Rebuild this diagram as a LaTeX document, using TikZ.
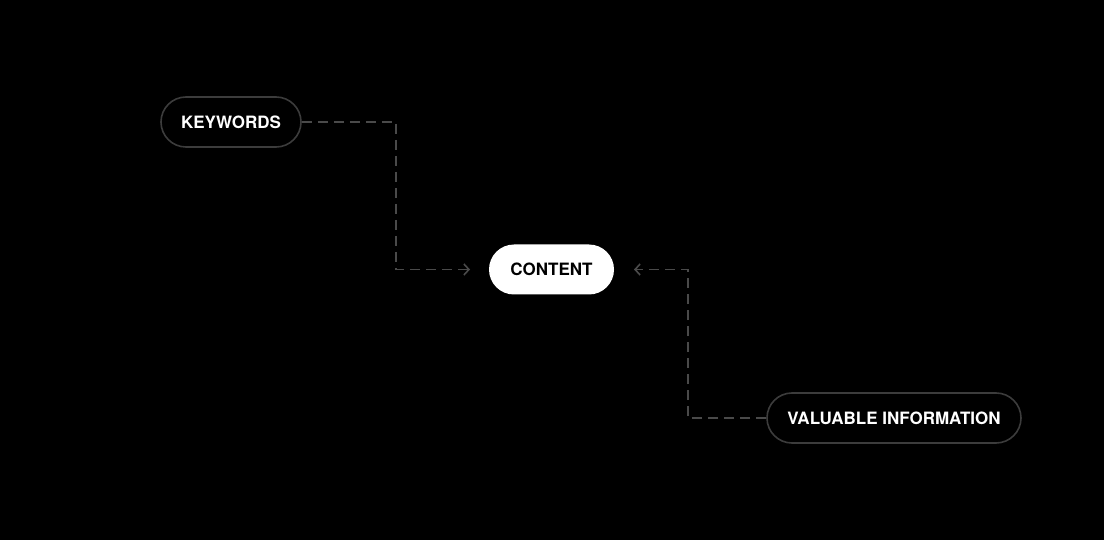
\documentclass[tikz,border=0pt]{standalone}
\usepackage{fontspec}
\setmainfont{TeX Gyre Heros}
\usetikzlibrary{arrows.meta}
\definecolor{pillborder}{HTML}{3C3C3C}
\definecolor{linkgray}{HTML}{4A4A4A}
\tikzset{
  pill/.style={rounded corners=25pt, minimum height=50pt, inner xsep=0pt,
    font=\fontsize{17}{20}\selectfont\bfseries, line width=1.6pt},
  darkpill/.style={pill, draw=pillborder, fill=black, text=white},
  lightpill/.style={pill, fill=white, text=black},
  link/.style={draw=linkgray, line width=1.6pt, dash pattern=on 10pt off 6pt,
    -{Straight Barb[length=5pt,width=11pt,line width=1.6pt]}}
}
\begin{document}
\begin{tikzpicture}[x=1pt,y=-1pt]
  \fill[black] (0,0) rectangle (1104,540);
  \useasboundingbox (0,0) rectangle (1104,540);
  \node[darkpill, minimum width=140pt] (kw) at (231,122) {KEYWORDS};
  \node[lightpill, minimum width=125pt] (ct) at (551.5,269.5) {CONTENT};
  \node[darkpill, minimum width=254pt] (vi) at (894,418) {VALUABLE INFORMATION};
  \coordinate (kwend) at (470,269.5);
  \coordinate (viend) at (634,269.5);
  \draw[link] (kw.east) -- (396,122) |- (kwend);
  \draw[link] (vi.west) -- (688,418) |- (viend);
\end{tikzpicture}
\end{document}
